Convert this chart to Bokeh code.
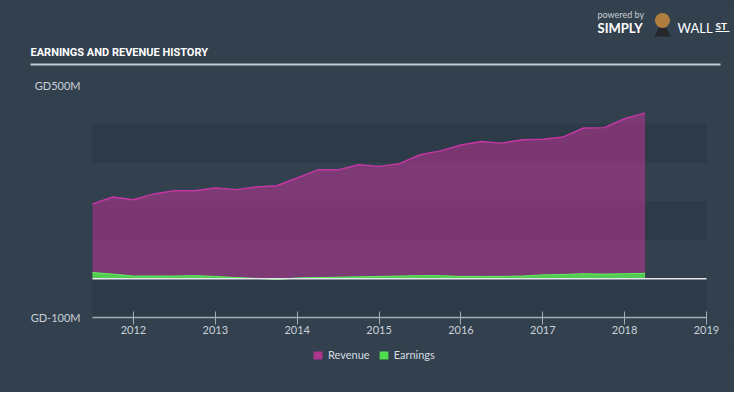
from bokeh.plotting import figure
from bokeh.layouts import column
from bokeh.models import (LinearAxis, FixedTicker, Range1d, BoxAnnotation,
                          Legend, LegendItem)
from bokeh.core.properties import value
from bokeh.embed import file_html
from bokeh.resources import INLINE

# ---- data (SGD millions) ----
quarters = [2011.5, 2011.75, 2012.0, 2012.25, 2012.5, 2012.75, 2013.0, 2013.25,
            2013.5, 2013.75, 2014.0, 2014.25, 2014.5, 2014.75, 2015.0, 2015.25,
            2015.5, 2015.75, 2016.0, 2016.25, 2016.5, 2016.75, 2017.0, 2017.25,
            2017.5, 2017.75, 2018.0, 2018.25]
revenue = [193, 211, 204, 219, 227, 227, 234, 230,
           237, 240, 260, 281, 281, 294, 290, 297,
           320, 330, 345, 354, 350, 359, 360, 366,
           389, 390, 413, 428]
earnings = [16, 12, 7, 7, 7, 8, 6, 3,
            1, -2, 2, 3, 4, 5, 6, 7,
            8, 8, 6, 6, 6, 7, 10, 11,
            13, 12, 13, 14]
x_ticks = [2012, 2013, 2014, 2015, 2016, 2017, 2018, 2019]
y_ticks = [500, -100]
y_tick_labels = ["GD500M", "GD-100M"]
band_edges = [(300, 400), (100, 200), (-100, 0)]
series_names = ["Revenue", "Earnings"]
title_text = "EARNINGS AND REVENUE HISTORY"

# ---- style ----
BG = "#33414f"
BAND = "#2d3a48"
REV_COLOR = "#b0358f"
REV_LINE = "#c437a2"
EARN_COLOR = "#4fdc4f"
TEXT = "#c9d0d8"
AXIS = "#a3adb8"

W = 734
MAIN_H, FOOT_H = 344, 48
# plot-area geometry in canvas pixels
PA_L, PA_R, PA_T, PA_B = 92, 706, 84.5, 317
FB = 324                       # frame bottom (frame spans whole width, top at 0)
x_lo, x_hi = quarters[0], x_ticks[-1]
y_lo, y_hi = min(y_ticks), max(y_ticks)
ppx = (PA_R - PA_L) / (x_hi - x_lo)
ppy = (PA_B - PA_T) / (y_hi - y_lo)
xr0 = x_lo - PA_L / ppx
xr1 = xr0 + W / ppx
yr1 = y_hi + PA_T / ppy
yr0 = yr1 - FB / ppy
NAN = float("nan")


def dx(px):
    return xr0 + px / ppx


def dy(py):
    return yr1 - py / ppy


p = figure(width=W, height=MAIN_H, output_backend="svg", toolbar_location=None,
           x_range=Range1d(xr0, xr1), y_range=Range1d(yr0, yr1),
           x_axis_type=None, y_axis_type=None, title=None,
           min_border_left=0, min_border_right=0,
           min_border_top=0, min_border_bottom=MAIN_H - FB)
p.background_fill_color = BG
p.border_fill_color = BG
p.outline_line_color = None

# plot bands
for lo, hi in band_edges:
    p.add_layout(BoxAnnotation(left=x_lo, right=x_hi, bottom=lo, top=hi,
                               fill_color=BAND, fill_alpha=1, line_color=None,
                               level="underlay"))

# series
p.varea(x=quarters, y1=0, y2=revenue, fill_color=REV_COLOR, fill_alpha=0.6)
p.line(quarters, revenue, line_color=REV_LINE, line_width=1.5)
p.varea(x=quarters, y1=0, y2=earnings, fill_color=EARN_COLOR, fill_alpha=0.9)
p.line(quarters, earnings, line_color="#5ef05e", line_width=1)

# zero line and x axis line
p.segment(x0=[x_lo], x1=[x_hi], y0=[0], y1=[0], line_color="#e3e7eb", line_width=1.5)
p.segment(x0=[x_lo], x1=[x_hi], y0=[y_lo], y1=[y_lo], line_color=AXIS, line_width=1.5)

xa = LinearAxis(ticker=FixedTicker(ticks=x_ticks), axis_line_color=None,
                major_tick_line_color=AXIS, major_tick_in=FB - PA_B + 6, major_tick_out=0,
                minor_tick_line_color=None, major_label_standoff=1,
                major_label_text_color=TEXT, major_label_text_font="Lato",
                major_label_text_font_size="11px")
p.add_layout(xa, "below")

# y labels (SGD labels clipped at the left)
p.text(x=[dx(80)] * len(y_ticks), y=y_ticks, text=y_tick_labels,
       text_align="right", text_baseline="middle", text_color=TEXT,
       text_font=value("Lato"), text_font_size="11px")

# header: title, underline, logo
p.text(x=[dx(30)], y=[dy(52)], text=[title_text], text_baseline="middle",
       text_align="left", text_color="#ffffff",
       text_font=value("Roboto"), text_font_style="bold",
       text_font_size="11px")
p.segment(x0=[dx(30)], x1=[dx(720)], y0=[dy(64)], y1=[dy(64)],
          line_color="#c5ccd4", line_width=2)
p.text(x=[dx(597)], y=[dy(14)], text=["powered by"], text_baseline="middle",
       text_color="#c8ced4", text_font=value("Lato"), text_font_size="9px")
p.text(x=[dx(597)], y=[dy(27)], text=["SIMPLY"], text_baseline="middle",
       text_color="#ffffff", text_font=value("Lato"), text_font_style="bold",
       text_font_size="13px")
p.scatter(x=[dx(662)], y=[dy(31)], size=17, marker="triangle",
          fill_color="#26272b", line_color=None)
p.scatter(x=[dx(662)], y=[dy(20)], size=15, fill_color="#b07f40", line_color=None)
p.text(x=[dx(677)], y=[dy(27)], text=["WALL"], text_baseline="middle",
       text_color="#ffffff", text_font=value("Lato"), text_font_size="13px")
p.text(x=[dx(715)], y=[dy(25)], text=["ST"], text_baseline="middle",
       text_color="#ffffff", text_font=value("Lato"), text_font_style="bold",
       text_font_size="10px")
p.segment(x0=[dx(715)], x1=[dx(729)], y0=[dy(31)], y1=[dy(31)],
          line_color="#ffffff", line_width=1)

# ---- footer with legend ----
foot = figure(width=W, height=FOOT_H, output_backend="svg", toolbar_location=None,
              x_range=Range1d(0, W), y_range=Range1d(FOOT_H, 0),
              x_axis_type=None, y_axis_type=None, title=None,
              min_border_left=0, min_border_right=0,
              min_border_top=0, min_border_bottom=0)
foot.background_fill_color = BG
foot.border_fill_color = BG
foot.outline_line_color = None
rev_sw = foot.quad(left=[NAN], right=[NAN], top=[NAN], bottom=[NAN],
                   fill_color=REV_COLOR, line_color=None)
earn_sw = foot.quad(left=[NAN], right=[NAN], top=[NAN], bottom=[NAN],
                    fill_color=EARN_COLOR, line_color=None)
legend = Legend(items=[LegendItem(label=series_names[0], renderers=[rev_sw]),
                       LegendItem(label=series_names[1], renderers=[earn_sw])],
                orientation="horizontal", location=(312, MAIN_H + FOOT_H - 361),
                glyph_width=11, glyph_height=10, label_height=10, label_standoff=5,
                spacing=8, padding=0, margin=0, border_line_color=None,
                background_fill_alpha=0, label_text_color="#d5dbe1",
                label_text_font="Lato", label_text_font_size="11px",
                label_text_baseline="middle")
foot.add_layout(legend, "center")

layout = column(p, foot, spacing=0)
layout.background = BG
open("out.html", "w").write(file_html(layout, INLINE))
